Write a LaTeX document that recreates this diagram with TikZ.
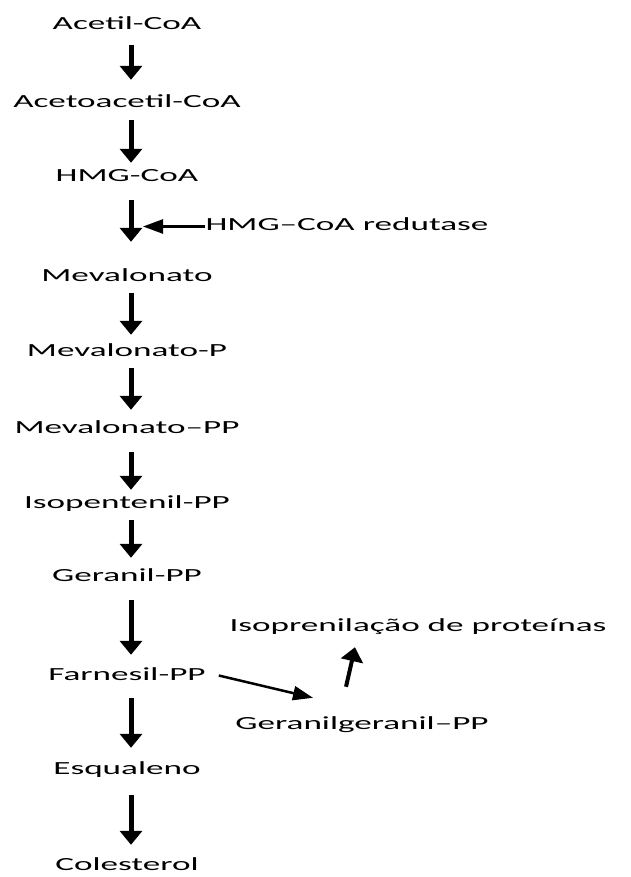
\documentclass[tikz,border=0pt]{standalone}
\usepackage{fontspec}
\setmainfont{Carlito}[FakeStretch=1.9]
\usetikzlibrary{arrows.meta,calc}

\begin{document}
\begin{tikzpicture}[x=1pt, y=1pt,
  every node/.style={inner sep=0pt, anchor=base, text height=12pt, text depth=3pt,
    font=\fontsize{18.5}{20}\selectfont},
  mainarrow/.style={line width=5pt, -{Triangle[width=22pt,length=14pt]}},
  sidearrow/.style={line width=2.5pt, -{Triangle[width=14pt,length=20pt]}},
  gap/.style 2 args={shorten <=#1pt, shorten >=#2pt}]
  \useasboundingbox (0,0) rectangle (630,-877);
 	\node(Acetil) at (127,-30) {Acetil-CoA};
 	\node(Aceto) at (127,-108) {Acetoacetil-CoA};
 	\node(HMG) at (127,-182) {HMG-CoA};
 	\node(Mev) at (127,-281) {Mevalonato};
 	\node(MevP) at (127,-356) {Mevalonato-P};
 	\node(MevPP) at (127,-433) {Mevalonato--PP};
 	\node(IPP) at (127,-508) {Isopentenil-PP};
 	\node(GPP) at (127,-581) {Geranil-PP};
 	\node(FPP) at (127,-680) {Farnesil-PP};
 	\node(Esq) at (127,-774) {Esqualeno};
 	\node(Col) at (127,-870) {Colesterol};
 	\node(Red) at (347,-231) {HMG--CoA redutase};
 	\node(GGPP) at (362,-729) {Geranilgeranil--PP};
 	\node(Prot) at (418,-631) {Isoprenilação de proteínas};
 	% main pathway
 	\draw[mainarrow, gap={12}{16}] ([xshift=4pt]Acetil.south) -- ([xshift=4pt]Aceto.north);
 	\draw[mainarrow, gap={9}{7}] ([xshift=4pt]Aceto.south) -- ([xshift=4pt]HMG.north);
 	\draw[mainarrow, gap={15}{27}] ([xshift=4pt]HMG.south) -- ([xshift=4pt]Mev.north);
 	\draw[mainarrow, gap={9}{9}] ([xshift=4pt]Mev.south) -- ([xshift=4pt]MevP.north);
 	\draw[mainarrow, gap={9}{11}] ([xshift=4pt]MevP.south) -- ([xshift=4pt]MevPP.north);
 	\draw[mainarrow, gap={16}{6}] ([xshift=4pt]MevPP.south) -- ([xshift=4pt]IPP.north);
 	\draw[mainarrow, gap={9}{11}] ([xshift=4pt]IPP.south) -- ([xshift=4pt]GPP.north);
 	\draw[mainarrow, gap={16}{13}] ([xshift=4pt]GPP.south) -- ([xshift=4pt]FPP.north);
 	\draw[mainarrow, gap={15}{14}] ([xshift=4pt]FPP.south) -- ([xshift=4pt]Esq.north);
 	\draw[mainarrow, gap={18}{13}] ([xshift=4pt]Esq.south) -- ([xshift=4pt]Col.north);
 	% enzyme and branch
 	\draw[sidearrow] (Red.west) -- ($(Red.west -| HMG)+(16,0)$);
 	\draw[sidearrow] ([xshift=13pt]FPP.east) -- ([xshift=-49pt,yshift=19pt]GGPP.north);
 	\draw[mainarrow, line width=4pt] ([xshift=-16pt,yshift=30pt]GGPP.north) -- ([xshift=-63pt,yshift=-13pt]Prot.south);
\end{tikzpicture}
\end{document}
